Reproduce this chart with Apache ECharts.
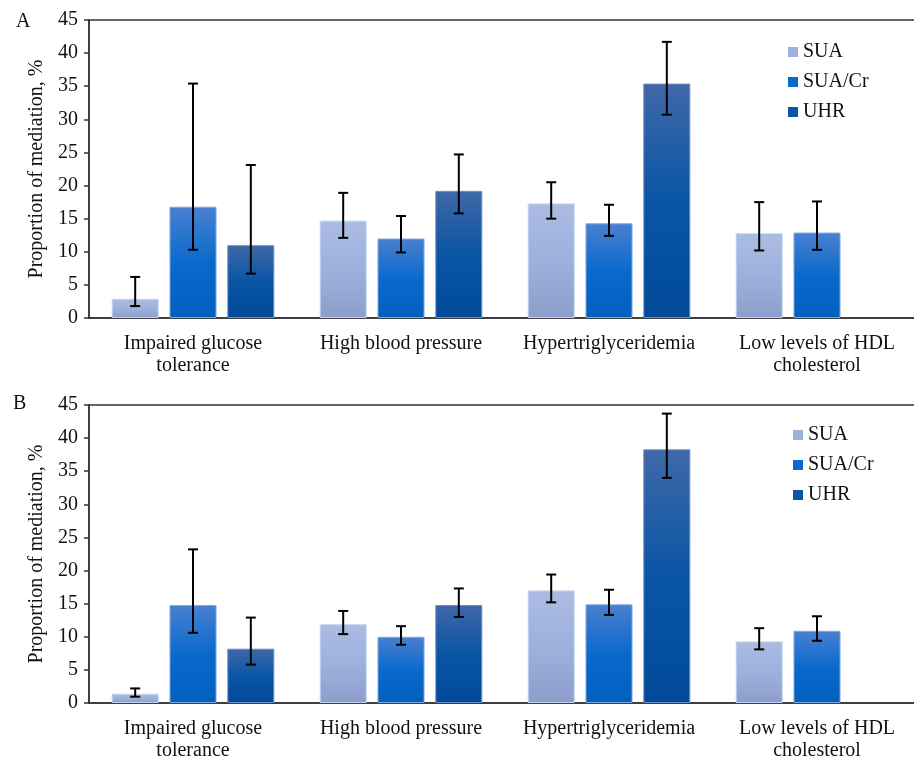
<!DOCTYPE html>
<html>
<head>
<meta charset="utf-8">
<script src="https://cdn.jsdelivr.net/npm/echarts@6/dist/echarts.min.js"></script>
<style>
html,body{margin:0;padding:0;background:#fff;}
#c{width:914px;height:758px;}
</style>
</head>
<body>
<div id="c"></div>
<script>
// ---- data ----
var categories = ['Impaired glucose\ntolerance', 'High blood pressure', 'Hypertriglyceridemia', 'Low levels of HDL\ncholesterol'];
var seriesNames = ['SUA', 'SUA/Cr', 'UHR'];
var yTicks = [0, 5, 10, 15, 20, 25, 30, 35, 40, 45];

// Panel A
var A_SUA = [2.9, 14.7, 17.3, 12.8];
var A_SUA_lo = [1.8, 12.1, 15.0, 10.2];
var A_SUA_hi = [6.2, 18.9, 20.5, 17.5];
var A_SUACr = [16.8, 12.0, 14.3, 12.9];
var A_SUACr_lo = [10.3, 9.9, 12.4, 10.3];
var A_SUACr_hi = [35.4, 15.4, 17.1, 17.6];
var A_UHR = [11.0, 19.2, 35.4, null];
var A_UHR_lo = [6.7, 15.8, 30.7, null];
var A_UHR_hi = [23.1, 24.7, 41.7, null];

// Panel B
var B_SUA = [1.4, 11.9, 17.0, 9.3];
var B_SUA_lo = [0.95, 10.4, 15.2, 8.1];
var B_SUA_hi = [2.2, 13.9, 19.4, 11.3];
var B_SUACr = [14.8, 10.0, 14.9, 10.9];
var B_SUACr_lo = [10.6, 8.8, 13.3, 9.4];
var B_SUACr_hi = [23.2, 11.6, 17.1, 13.1];
var B_UHR = [8.2, 14.8, 38.3, null];
var B_UHR_lo = [5.8, 13.0, 34.0, null];
var B_UHR_hi = [12.9, 17.3, 43.7, null];

// ---- styles ----
var FONT = "'Liberation Serif','Times New Roman',serif";
var FS = 20;
var BAR_W = 47, BAR_GAP = 0.23;
function grad(c1, c2, c3) {
  return new echarts.graphic.LinearGradient(0, 0, 0, 1, [
    {offset: 0, color: c1}, {offset: 0.5, color: c2}, {offset: 1, color: c3}
  ]);
}
var colors = [
  grad('#AABCE3', '#9EB1DC', '#8C9FCC'),
  grad('#4A80D0', '#0A6ACC', '#005FBF'),
  grad('#4068A8', '#0A55A5', '#004A98')
];
var legendColors = ['#9EB1DC', '#0A6ACC', '#0A55A5'];
var borders = ['#C5D2EE', '#7FA6E2', '#6D8DC4'];

function barSeries(name, idx, data, gi) {
  return {
    type: 'bar', name: name, xAxisIndex: gi, yAxisIndex: gi,
    data: data, barWidth: BAR_W, barGap: (BAR_GAP * 100) + '%',
    itemStyle: {color: colors[idx], borderColor: borders[idx], borderWidth: 1},
    emphasis: {disabled: true}
  };
}
function errSeries(idx, lo, hi, gi) {
  var d = [];
  for (var i = 0; i < lo.length; i++) {
    if (lo[i] != null) d.push([i, lo[i], hi[i]]);
  }
  return {
    type: 'custom', xAxisIndex: gi, yAxisIndex: gi, data: d, z: 10,
    silent: true,
    renderItem: function (params, api) {
      var off = (idx - 1) * BAR_W * (1 + BAR_GAP);
      var p1 = api.coord([api.value(0), api.value(1)]);
      var p2 = api.coord([api.value(0), api.value(2)]);
      var x = p1[0] + off, cap = 5;
      var st = {stroke: '#000', lineWidth: 2};
      return {type: 'group', children: [
        {type: 'line', shape: {x1: x, y1: p1[1], x2: x, y2: p2[1]}, style: st},
        {type: 'line', shape: {x1: x - cap, y1: p1[1], x2: x + cap, y2: p1[1]}, style: st},
        {type: 'line', shape: {x1: x - cap, y1: p2[1], x2: x + cap, y2: p2[1]}, style: st}
      ]};
    }
  };
}

function xAx(gi) {
  return {
    type: 'category', gridIndex: gi, data: categories,
    axisLine: {lineStyle: {color: '#333', width: 1.5}},
    axisTick: {show: false},
    axisLabel: {interval: 0, color: '#111', fontFamily: FONT, fontSize: FS, lineHeight: 22, margin: 15}
  };
}
function yAx(gi) {
  return {
    type: 'value', gridIndex: gi, min: 0, max: 45, interval: 5,
    name: 'Proportion of mediation, %', nameLocation: 'middle', nameRotate: 90, nameGap: 42,
    nameTextStyle: {color: '#111', fontFamily: FONT, fontSize: FS},
    axisLine: {show: true, lineStyle: {color: '#333', width: 1.5}},
    axisTick: {show: true, length: 5, lineStyle: {color: '#333', width: 1.5}},
    splitLine: {show: false},
    axisLabel: {color: '#111', fontFamily: FONT, fontSize: FS, margin: 11,
      formatter: function (v) { return yTicks.indexOf(v) >= 0 ? String(v) : ''; }}
  };
}
function legend(left, top, gi) {
  return {
    data: seriesNames.map(function (n, i) {
      return {name: n, itemStyle: {color: legendColors[i], borderWidth: 0}};
    }),
    orient: 'vertical', left: left, top: top,
    itemWidth: 10, itemHeight: 10, itemGap: 10, icon: 'rect',
    textStyle: {color: '#111', fontFamily: FONT, fontSize: FS},
    selectedMode: false
  };
}

var chart = echarts.init(document.getElementById('c'));
chart.setOption({
  backgroundColor: '#fff',
  animation: false,
  grid: [
    {left: 89, top: 20, width: 832, height: 298, show: true, borderColor: '#333', borderWidth: 1.5, outerBoundsMode: 'none', containLabel: false},
    {left: 89, top: 405, width: 832, height: 298, show: true, borderColor: '#333', borderWidth: 1.5, outerBoundsMode: 'none', containLabel: false}
  ],
  xAxis: [xAx(0), xAx(1)],
  yAxis: [yAx(0), yAx(1)],
  legend: [legend(783, 37), legend(788, 420)],
  graphic: [
    {type: 'text', left: 16, top: 12, style: {text: 'A', font: FS + 'px ' + FONT, fill: '#111'}},
    {type: 'text', left: 13, top: 394, style: {text: 'B', font: FS + 'px ' + FONT, fill: '#111'}}
  ],
  series: [
    barSeries('SUA', 0, A_SUA, 0),
    barSeries('SUA/Cr', 1, A_SUACr, 0),
    barSeries('UHR', 2, A_UHR, 0),
    barSeries('SUA', 0, B_SUA, 1),
    barSeries('SUA/Cr', 1, B_SUACr, 1),
    barSeries('UHR', 2, B_UHR, 1),
    errSeries(0, A_SUA_lo, A_SUA_hi, 0),
    errSeries(1, A_SUACr_lo, A_SUACr_hi, 0),
    errSeries(2, A_UHR_lo, A_UHR_hi, 0),
    errSeries(0, B_SUA_lo, B_SUA_hi, 1),
    errSeries(1, B_SUACr_lo, B_SUACr_hi, 1),
    errSeries(2, B_UHR_lo, B_UHR_hi, 1)
  ]
});
</script>
</body>
</html>
